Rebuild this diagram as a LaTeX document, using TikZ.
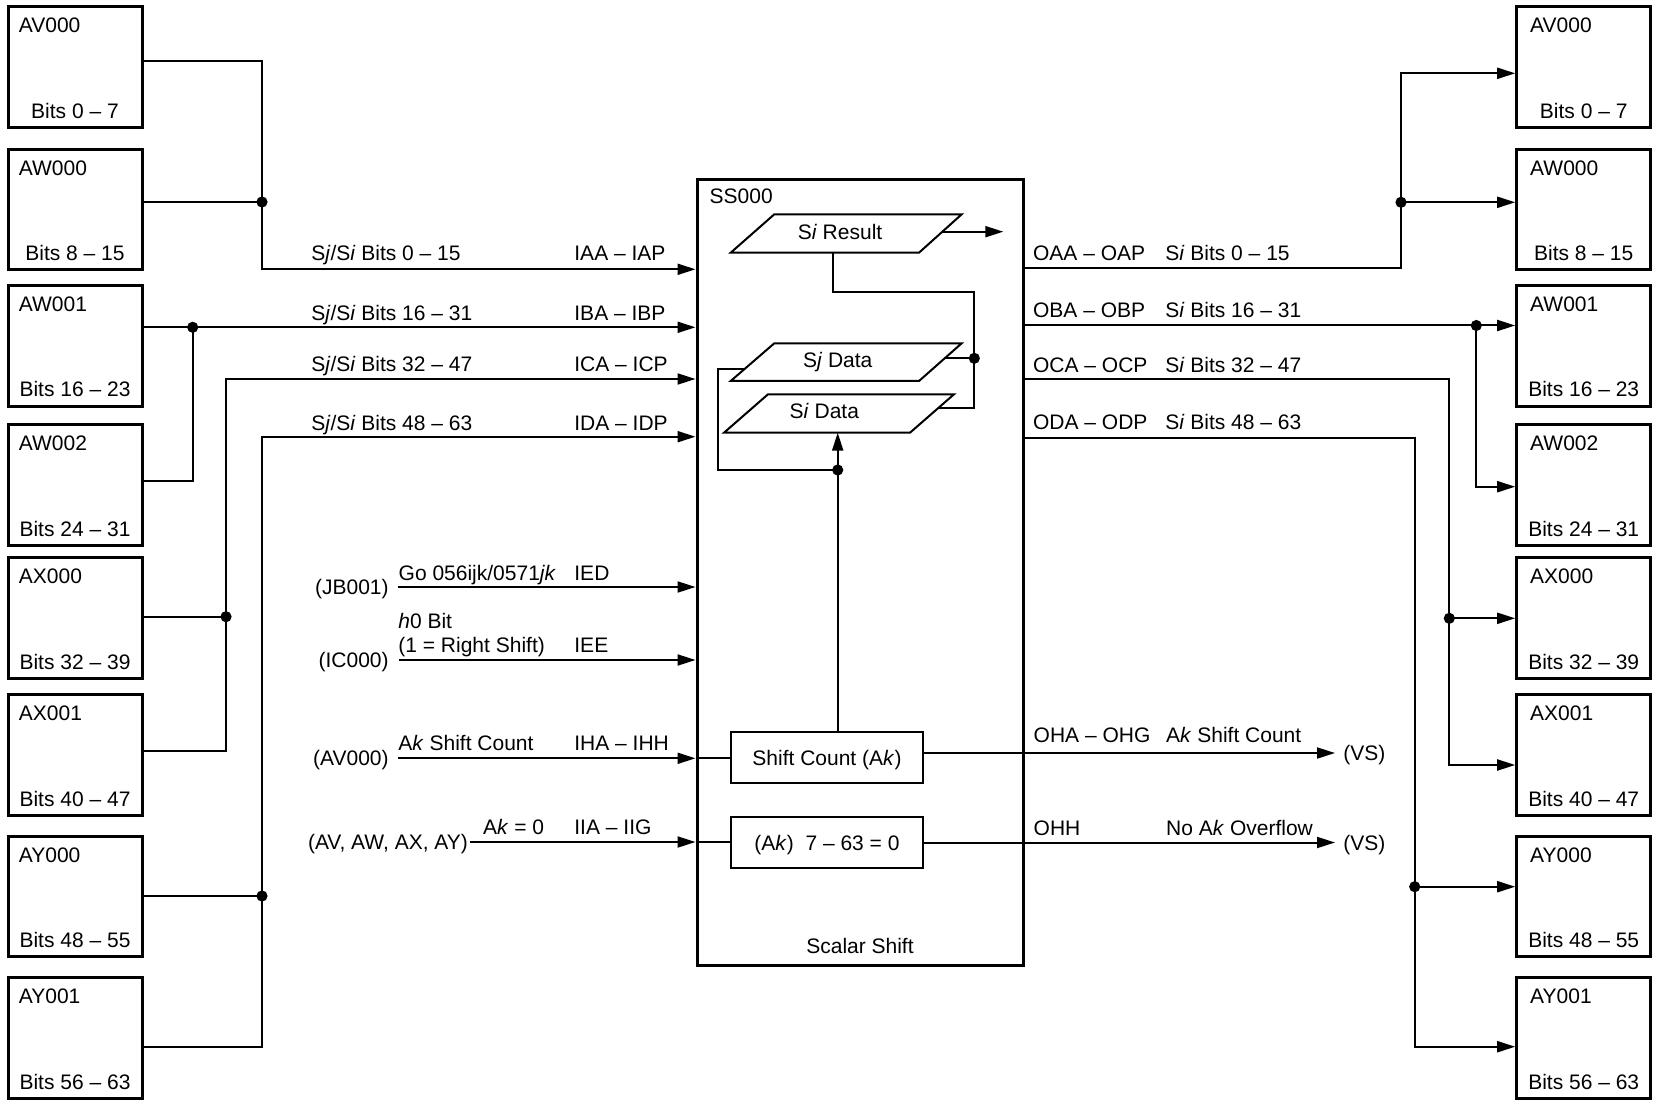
\documentclass[tikz,border=0pt]{standalone}
\usepackage{fontspec}
\setmainfont{Liberation Sans}
\usetikzlibrary{arrows.meta}
\tikzset{
 conn/.style={line width=1pt},
 arr/.style={conn,-{Triangle[length=9pt,width=5.5pt]}},
 regbox/.style={draw,line width=1.5pt,minimum width=67pt,minimum height=60.4pt,inner sep=0pt},
 lbl/.style={inner sep=0pt,text height=7.5pt,text depth=0pt,font=\fontsize{10.5pt}{12pt}\selectfont},
 jdot/.style={fill,circle,inner sep=0pt,minimum size=5.6pt},
 inbox/.style={draw,line width=1pt,inner sep=0pt,minimum width=96.3pt,text height=7.5pt,text depth=0pt,font=\fontsize{10.5pt}{12pt}\selectfont},
 pline/.style={line width=1pt,line join=miter},
}
\newcommand\mkreg[6]{%
 \node[regbox] (#1) at (#2,#3) {};
 \node[lbl,anchor=west] (#1t) at ([shift={(#6,-10pt)}]#1.north west) {#4};
 \node[lbl] (#1b) at ([yshift=9.2pt]#1.south) {#5};}
\begin{document}
\begin{tikzpicture}[x=0.5pt,y=-0.5pt]
\useasboundingbox (0,0) rectangle (1653,1101);
% ---------- register boxes left
\mkreg{lAV}{75}{67.4}{AV000}{Bits 0 – 7}{6pt}
\mkreg{lAW0}{75}{209.5}{AW000}{Bits 8 – 15}{6pt}
\mkreg{lAW1}{75}{345.8}{AW001}{Bits 16 – 23}{6pt}
\mkreg{lAW2}{75}{485.2}{AW002}{Bits 24 – 31}{6pt}
\mkreg{lAX0}{75}{618.3}{AX000}{Bits 32 – 39}{6pt}
\mkreg{lAX1}{75}{755.2}{AX001}{Bits 40 – 47}{6pt}
\mkreg{lAY0}{75}{896.5}{AY000}{Bits 48 – 55}{6pt}
\mkreg{lAY1}{75}{1038.2}{AY001}{Bits 56 – 63}{6pt}
% ---------- register boxes right
\mkreg{rAV}{1583.7}{67.4}{AV000}{Bits 0 – 7}{7.3pt}
\mkreg{rAW0}{1583.7}{209.5}{AW000}{Bits 8 – 15}{7.3pt}
\mkreg{rAW1}{1583.7}{345.8}{AW001}{Bits 16 – 23}{7.3pt}
\mkreg{rAW2}{1583.7}{485.2}{AW002}{Bits 24 – 31}{7.3pt}
\mkreg{rAX0}{1583.7}{618.3}{AX000}{Bits 32 – 39}{7.3pt}
\mkreg{rAX1}{1583.7}{755.2}{AX001}{Bits 40 – 47}{7.3pt}
\mkreg{rAY0}{1583.7}{896.5}{AY000}{Bits 48 – 55}{7.3pt}
\mkreg{rAY1}{1583.7}{1038.2}{AY001}{Bits 56 – 63}{7.3pt}
% ---------- central block
\node[draw,line width=1.5pt,minimum width=163pt,minimum height=392.5pt,inner sep=0pt] (ss) at (860,572.5) {};
\node[lbl,anchor=west] (ssname) at (709.3,196) {SS000};
\node[lbl] (sstitle) at (860,946) {Scalar Shift};
% parallelograms
\draw[pline] (730.7,252.7) -- (774.3,214.3) -- (961.7,214.3) -- (919,252.7) -- cycle;
\node[lbl] (sr) at (840,231.7) {S\textit{i} Result};
\draw[pline] (730.7,381) -- (774.3,343.3) -- (961.7,343.3) -- (919,381) -- cycle;
\node[lbl] (sj) at (837.7,360) {S\textit{j} Data};
\draw[pline] (724,432.7) -- (768,394.3) -- (954,394.3) -- (910,432.7) -- cycle;
\node[lbl] (si) at (824.3,410.7) {S\textit{i} Data};
\coordinate (srB) at (833.3,252.7);
\coordinate (srR) at (942.4,231.7);
\coordinate (srOut) at (1003.3,231.7);
\coordinate (sjR) at (944.7,358.3);
\coordinate (sjL) at (744.7,369);
\coordinate (siR) at (937.9,408.3);
\coordinate (siB) at (837.7,432.7);
% inner boxes
\node[inbox,minimum height=25.5pt] (sc) at (827,757.8) {Shift Count (A\textit{k})};
\node[inbox,minimum height=25.8pt] (ak) at (827,842.5) {(A\textit{k})\ \ 7 – 63 = 0};
% junction dots
\node[jdot] (jC1) at (974.3,358.3) {};
\node[jdot] (jC2) at (837.7,470) {};
\node[jdot] (jL1) at (262,202) {};
\node[jdot] (jL2) at (192.7,327.3) {};
\node[jdot] (jL3) at (226,616.7) {};
\node[jdot] (jL4) at (262,896) {};
\node[jdot] (jR1) at (1401,202.3) {};
\node[jdot] (jR2) at (1476.3,325.5) {};
\node[jdot] (jR3) at (1449.3,618.3) {};
\node[jdot] (jR4) at (1414.7,886.7) {};
% internal connectors
\draw[arr] (srR) -- (srOut);
\draw[conn] (srB) |- (974.3,291.7) |- (siR);
\draw[conn] (sjR) -- (jC1.center);
\draw[conn] (sjL) -| (718.3,470) -- (jC2.center);
\draw[arr] (sc.north -| siB) -- (siB);
% ---------- left connectors
\draw[arr] (lAV.east |- 0,61) -| (262,269.3) -- (ss.west |- 0,269.3);
\draw[conn] (lAW0.east |- jL1) -- (jL1.center);
\draw[arr] (lAW1.east |- jL2) -- (ss.west |- jL2);
\draw[conn] (lAW2.east |- 0,480.7) -| (jL2.center);
\draw[arr] (lAX1.east |- 0,751.3) -| (226,379) -- (ss.west |- 0,379);
\draw[conn] (lAX0.east |- jL3) -- (jL3.center);
\draw[arr] (lAY1.east |- 0,1046.7) -| (262,436.7) -- (ss.west |- 0,436.7);
\draw[conn] (lAY0.east |- jL4) -- (jL4.center);
% left labels
\node[lbl,anchor=west] (la1) at (311,253) {S\textit{j}/S\textit{i} Bits 0 – 15};
\node[lbl,anchor=west] (la2) at (574,253) {IAA – IAP};
\node[lbl,anchor=west] (lb1) at (311,313) {S\textit{j}/S\textit{i} Bits 16 – 31};
\node[lbl,anchor=west] (lb2) at (574,313) {IBA – IBP};
\node[lbl,anchor=west] (lc1) at (311,364) {S\textit{j}/S\textit{i} Bits 32 – 47};
\node[lbl,anchor=west] (lc2) at (574,364) {ICA – ICP};
\node[lbl,anchor=west] (ld1) at (311,422.7) {S\textit{j}/S\textit{i} Bits 48 – 63};
\node[lbl,anchor=west] (ld2) at (574,422.7) {IDA – IDP};
% ---------- right connectors
\draw[arr] (ss.east |- 0,267.7) -| (1401,73.3) -- (rAV.west |- 0,73.3);
\draw[arr] (jR1.center) -- (rAW0.west |- jR1);
\draw[arr] (ss.east |- jR2) -- (rAW1.west |- jR2);
\draw[arr] (jR2.center) |- (rAW2.west |- 0,486.7);
\draw[arr] (ss.east |- 0,379) -| (1449.3,765) -- (rAX1.west |- 0,765);
\draw[arr] (jR3.center) -- (rAX0.west |- jR3);
\draw[arr] (ss.east |- 0,438) -| (1414.7,1046.7) -- (rAY1.west |- 0,1046.7);
\draw[arr] (jR4.center) -- (rAY0.west |- jR4);
% right labels
\node[lbl,anchor=west] (ra1) at (1032.7,253.3) {OAA – OAP};
\node[lbl,anchor=west] (ra2) at (1165,253.3) {S\textit{i} Bits 0 – 15};
\node[lbl,anchor=west] (rb1) at (1032.7,310) {OBA – OBP};
\node[lbl,anchor=west] (rb2) at (1165,310) {S\textit{i} Bits 16 – 31};
\node[lbl,anchor=west] (rc1) at (1032.7,365) {OCA – OCP};
\node[lbl,anchor=west] (rc2) at (1165,365) {S\textit{i} Bits 32 – 47};
\node[lbl,anchor=west] (rd1) at (1032.7,421.7) {ODA – ODP};
\node[lbl,anchor=west] (rd2) at (1165,421.7) {S\textit{i} Bits 48 – 63};
% ---------- other inputs
\node[lbl,anchor=east] (iJB) at (389,587) {(JB001)};
\draw[arr] ([xshift=4.4pt]iJB.east) -- (ss.west |- iJB.east);
\node[lbl,anchor=west] (tJB) at (398.3,573.3) {Go 056ijk/0571\textit{jk}};
\node[lbl,anchor=west] (tIED) at (574,573.3) {IED};
\node[lbl,anchor=east] (iIC) at (389,660) {(IC000)};
\draw[arr] ([xshift=5pt]iIC.east) -- (ss.west |- iIC.east);
\node[lbl,anchor=west] (tIC1) at (398,620.7) {\textit{h}0 Bit};
\node[lbl,anchor=west] (tIC2) at (398,644.5) {(1 = Right Shift)};
\node[lbl,anchor=west] (tIEE) at (574,644.5) {IEE};
\node[lbl,anchor=east] (iAV) at (389,758.3) {(AV000)};
\draw[arr] ([xshift=4.4pt]iAV.east) -- (ss.west |- iAV.east);
\draw[conn] (ss.west |- iAV.east) -- (sc.west |- iAV.east);
\node[lbl,anchor=west] (tAV) at (398,743.3) {A\textit{k} Shift Count};
\node[lbl,anchor=west] (tIHA) at (574,743.3) {IHA – IHH};
\node[lbl,anchor=east] (iAA) at (468.3,842) {(AV, AW, AX, AY)};
\draw[arr] ([xshift=1pt]iAA.east) -- (ss.west |- iAA.east);
\draw[conn] (ss.west |- iAA.east) -- (ak.west |- iAA.east);
\node[lbl,anchor=west] (tAA) at (482.7,827.3) {A\textit{k} = 0};
\node[lbl,anchor=west] (tIIA) at (574,827.3) {IIA – IIG};
% ---------- outputs
\node[lbl,anchor=west] (vs1) at (1343,753) {(VS)};
\draw[arr] (sc.east |- vs1.west) -- ([xshift=-4pt]vs1.west);
\node[lbl,anchor=west] (vs2) at (1343,842.5) {(VS)};
\draw[arr] (ak.east |- vs2.west) -- ([xshift=-4pt]vs2.west);
\node[lbl,anchor=west] (oH1) at (1033.3,735) {OHA – OHG};
\node[lbl,anchor=west] (oH2) at (1165.7,735) {A\textit{k} Shift Count};
\node[lbl,anchor=west] (oH3) at (1033.3,828.3) {OHH};
\node[lbl,anchor=west] (oH4) at (1165.7,828.3) {No A\textit{k} Overflow};
\end{tikzpicture}
\end{document}
